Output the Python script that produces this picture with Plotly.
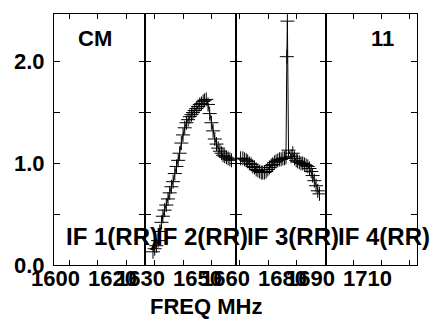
import plotly.graph_objects as go
from plotly.subplots import make_subplots

# ---- data ----
panel_ranges = [(1599.5, 1631.5), (1631.5, 1663.5), (1663.5, 1695.5), (1695.5, 1727.5)]
panel_ticks = [[1605, 1615, 1625], [1635, 1645, 1655], [1665, 1675, 1685], [1705, 1715, 1725]]
panel_tick_labels = [[1600, 1620], [1630, 1650], [1660, 1680], [1690, 1710]]
if_names = ["IF 1(RR)", "IF 2(RR)", "IF 3(RR)", "IF 4(RR)"]

if2_freq = [1634.4, 1635.0, 1635.6, 1636.2, 1636.8, 1637.4, 1637.9, 1638.5, 1639.1, 1639.7,
            1640.3, 1640.9, 1641.5, 1642.1, 1642.7, 1643.3, 1643.8, 1644.4, 1645.0, 1645.6,
            1646.2, 1646.8, 1647.4, 1648.0, 1648.5, 1649.1, 1649.7, 1650.3, 1650.9, 1651.5,
            1652.1, 1652.6, 1653.2, 1653.8, 1654.4, 1655.0, 1655.6, 1656.2, 1656.8, 1657.4,
            1658.0, 1658.6, 1659.1, 1659.7, 1660.3, 1660.9, 1661.5, 1662.1]
if2_amp = [0.13, 0.16, 0.19, 0.24, 0.33, 0.42, 0.48, 0.54, 0.59, 0.65,
           0.71, 0.77, 0.82, 0.90, 0.97, 1.03, 1.10, 1.20, 1.28, 1.35,
           1.40, 1.43, 1.46, 1.48, 1.50, 1.52, 1.54, 1.56, 1.58, 1.59,
           1.61, 1.62, 1.63, 1.58, 1.49, 1.40, 1.32, 1.24, 1.19, 1.15,
           1.12, 1.10, 1.08, 1.07, 1.06, 1.05, 1.04, 1.03]

if3_freq = [1665.3, 1666.1, 1666.7, 1667.3, 1667.8, 1668.4, 1669.0, 1669.6, 1670.2, 1670.8,
            1671.4, 1672.0, 1672.6, 1673.1, 1673.7, 1674.3, 1674.9, 1675.5, 1676.1, 1676.6,
            1677.2, 1677.8, 1678.4, 1679.0, 1679.6, 1680.2, 1680.8, 1681.3, 1681.6, 1681.8,
            1682.2, 1683.1, 1683.7, 1684.3, 1684.9, 1685.4, 1686.0, 1686.6, 1687.2, 1687.8,
            1688.4, 1689.0, 1689.6, 1690.2, 1690.7, 1691.3, 1691.9, 1692.5, 1693.1]
if3_amp = [1.05, 1.05, 1.04, 1.03, 1.02, 1.00, 0.99, 0.97, 0.96, 0.94,
           0.93, 0.92, 0.91, 0.91, 0.91, 0.92, 0.94, 0.96, 0.98, 0.99,
           1.01, 1.02, 1.03, 1.04, 1.04, 1.05, 1.05, 1.06, 2.05, 2.40,
           1.13, 1.07, 1.10, 1.05, 1.03, 1.02, 1.01, 1.00, 1.00, 0.99,
           0.98, 0.97, 0.95, 0.92, 0.88, 0.83, 0.78, 0.73, 0.70]

y_ticks = [0, 0.5, 1.0, 1.5, 2.0]
y_tick_text = ["0.0", "", "1.0", "", "2.0"]

FONT = "Liberation Sans, Arial, Helvetica, sans-serif"
fsize = 22


def bold(size=fsize):
    return dict(family=FONT, size=size, color="black", weight="bold")


fig = make_subplots(rows=1, cols=4, horizontal_spacing=0)

series = {2: (if2_freq, if2_amp), 3: (if3_freq, if3_amp)}
for col, (fx, fy) in series.items():
    fig.add_trace(go.Scatter(x=fx, y=fy, mode="lines+markers",
                             line=dict(color="black", width=1),
                             marker=dict(symbol="cross-thin", size=10,
                                         line=dict(color="black", width=1)),
                             showlegend=False, hoverinfo="skip"), row=1, col=col)

for i in range(4):
    n = "" if i == 0 else str(i + 1)
    lo, hi = panel_ranges[i]
    fig.update_layout(**{
        "xaxis" + n: dict(range=[lo, hi], tickvals=panel_ticks[i],
                          ticktext=[""] * len(panel_ticks[i]), ticks="inside", ticklen=5,
                          tickcolor="black", showline=True, linecolor="black", linewidth=1,
                          mirror="ticks", showgrid=False, zeroline=False, automargin=False),
        "yaxis" + n: dict(range=[0, 2.47], tickvals=y_ticks, ticktext=y_tick_text,
                          ticks="inside", ticklen=6, tickcolor="black", showline=True,
                          linecolor="black", linewidth=1, mirror="ticks", showgrid=False,
                          zeroline=False, showticklabels=(i == 0), ticklabelstandoff=4,
                          automargin=False, tickfont=bold()),
    })
    xr = "x" + n + " domain"
    for lab in panel_tick_labels[i]:
        fig.add_annotation(x=(lab - lo) / (hi - lo), y=0, xref=xr, yref="paper", text=str(lab),
                           showarrow=False, xanchor="center", yanchor="middle", yshift=-13,
                           font=bold())
    fig.add_annotation(x=0.635, y=0.276, xref=xr, yref="y" + n, text=if_names[i],
                       showarrow=False, xanchor="center", yanchor="middle", font=bold(24))

fig.add_annotation(x=0.42, y=0, xref="paper", yref="paper", text="FREQ MHz", showarrow=False,
                   xanchor="center", yanchor="middle", yshift=-41, font=bold())
fig.add_annotation(x=0.113, y=0.904, xref="paper", yref="paper", text="CM", showarrow=False,
                   xanchor="center", yanchor="middle", font=bold())
fig.add_annotation(x=0.906, y=0.904, xref="paper", yref="paper", text="11", showarrow=False,
                   xanchor="center", yanchor="middle", font=bold())

fig.update_layout(width=431, height=320, margin=dict(l=54, r=14, t=14, b=55),
                  paper_bgcolor="white", plot_bgcolor="white", showlegend=False)

fig.write_html("out.html", config={"displayModeBar": False},
               post_script="document.body.style.margin='0';document.body.style.overflow='hidden';")
